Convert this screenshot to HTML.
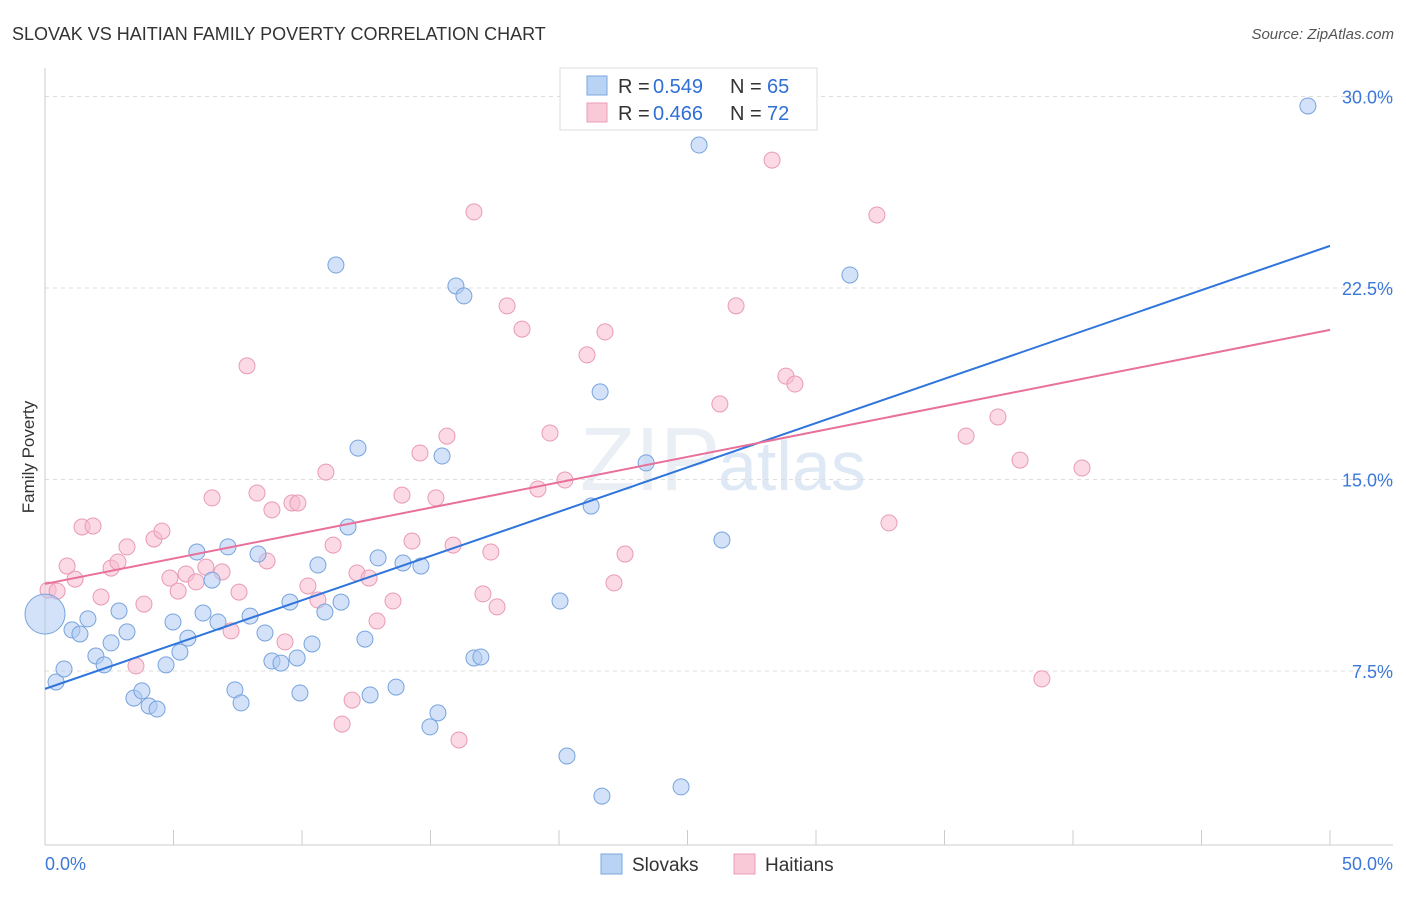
<!DOCTYPE html>
<html><head><meta charset="utf-8"><style>
body{margin:0;background:#fff;font-family:"Liberation Sans",sans-serif}
svg text{font-family:"Liberation Sans",sans-serif}
</style></head><body>
<svg id="chart" width="1406" height="892" xmlns="http://www.w3.org/2000/svg">
<text x="12" y="40" font-size="18" fill="#333">SLOVAK VS HAITIAN FAMILY POVERTY CORRELATION CHART</text>
<text x="1394" y="39" font-size="15" fill="#555" text-anchor="end" font-style="italic">Source: ZipAtlas.com</text>
<text x="720" y="490" font-size="90" fill="#dde6f0" text-anchor="end" font-family="Liberation Serif" opacity="0.6">ZIP</text>
<text x="718" y="490" font-size="70" fill="#c9dbf0" opacity="0.6">atlas</text>
<text transform="translate(34,457) rotate(-90)" font-size="17" fill="#333" text-anchor="middle">Family Poverty</text>
<g id="grid"></g><g id="axes"></g><g id="pts"></g><g id="lines"></g>
<g>
<rect x="560" y="68" width="257" height="62" fill="#fff" stroke="#ddd"/>
<rect x="587" y="76" width="20" height="19" fill="#b9d3f5" stroke="#7aa7e0"/>
<text x="618" y="93" font-size="20" fill="#333">R = </text><text x="653" y="93" font-size="20" fill="#2f6fd6">0.549</text>
<text x="730" y="93" font-size="20" fill="#333">N = </text><text x="767" y="93" font-size="20" fill="#2f6fd6">65</text>
<rect x="587" y="103" width="20" height="19" fill="#f9c9d8" stroke="#ec9cb6"/>
<text x="618" y="120" font-size="20" fill="#333">R = </text><text x="653" y="120" font-size="20" fill="#2f6fd6">0.466</text>
<text x="730" y="120" font-size="20" fill="#333">N = </text><text x="767" y="120" font-size="20" fill="#2f6fd6">72</text>
</g>
<g>
<rect x="601" y="854" width="21" height="20" fill="#b9d3f5" stroke="#7aa7e0"/>
<text x="632" y="871" font-size="19" fill="#333">Slovaks</text>
<rect x="734" y="854" width="21" height="20" fill="#f9c9d8" stroke="#ec9cb6"/>
<text x="765" y="871" font-size="19" fill="#333">Haitians</text>
</g>
</svg>
<script>
const slovakX=[0.43,0.74,1.05,1.36,1.67,1.98,2.30,2.57,2.88,3.19,3.46,3.77,4.05,4.36,4.71,4.98,5.25,5.56,5.91,6.15,6.50,6.73,7.12,7.39,7.63,7.98,8.29,8.56,8.83,9.18,9.53,9.81,9.92,10.39,10.62,10.89,11.32,11.52,11.79,12.18,12.45,12.65,12.96,13.66,13.93,14.63,14.98,15.29,15.45,15.99,16.30,16.69,16.96,20.04,20.31,21.25,21.60,21.67,23.39,24.75,25.45,26.34,31.32,49.14];
const slovakY=[7.07,7.58,9.11,8.95,9.54,8.09,7.74,8.60,9.85,9.03,6.44,6.72,6.13,6.01,7.74,9.42,8.24,8.79,12.16,9.77,11.06,9.42,12.36,6.76,6.25,9.65,12.08,8.99,7.89,7.81,10.20,8.01,6.64,8.56,11.65,9.81,23.40,10.20,13.14,16.23,8.75,6.56,11.93,6.87,11.73,11.61,5.31,5.86,15.92,22.58,22.19,8.01,8.05,10.24,4.17,13.96,18.43,2.60,15.65,2.96,28.10,12.63,23.01,29.63];
const haitianX=[0.12,0.47,0.86,1.17,1.44,1.87,2.18,2.57,2.84,3.19,3.54,3.85,4.24,4.55,4.86,5.18,5.49,5.88,6.26,6.50,6.89,7.24,7.55,7.86,8.25,8.64,8.83,9.34,9.61,9.84,10.23,10.62,10.93,11.21,11.56,11.95,12.14,12.61,12.92,13.54,13.89,14.28,14.59,15.21,15.64,15.88,16.11,16.69,17.04,17.35,17.59,17.98,18.56,19.18,19.65,20.23,21.09,21.79,22.14,22.57,26.26,26.89,28.29,28.83,29.18,32.37,32.84,35.84,37.08,37.94,38.79,40.35];
const haitianY=[10.67,10.63,11.61,11.10,13.14,13.18,10.40,11.53,11.77,12.36,7.70,10.12,12.67,12.98,11.14,10.63,11.30,10.99,11.57,14.28,11.38,9.07,10.59,19.45,14.47,11.81,13.81,8.64,14.08,14.08,10.83,10.28,15.29,12.43,5.42,6.36,11.34,11.14,9.46,10.24,14.39,12.59,16.04,14.28,16.70,12.43,4.80,25.48,10.52,12.16,10.01,21.80,20.89,14.63,16.82,14.98,19.88,20.78,10.95,12.08,17.96,21.80,27.51,19.05,18.74,25.36,13.30,16.70,17.45,15.76,7.19,15.45];
const bigX=[0.0], bigY=[9.73];
const slovakLine=[6.80,24.15], haitianLine=[10.91,20.86];
const yTicks=[7.5,15.0,22.5,30.0];
const xTickLabels=["0.0%","50.0%"];
const NS="http://www.w3.org/2000/svg";
const sx=v=>45+v*25.7, sy=v=>862.5-v*25.533;
function mk(t,a,p){const e=document.createElementNS(NS,t);for(const k in a)e.setAttribute(k,a[k]);p.appendChild(e);return e;}
const grid=document.getElementById('grid'),axes=document.getElementById('axes'),pts=document.getElementById('pts'),lines=document.getElementById('lines');
yTicks.forEach(v=>{
 const l=mk('line',{x1:45,x2:1393,y1:sy(v),y2:sy(v),stroke:'#ddd','stroke-dasharray':'4,4'},grid);
 
 
 const t=mk('text',{x:1393,y:sy(v)+7,'font-size':18,fill:'#3b78d8','text-anchor':'end'},grid);
 t.textContent=v.toFixed(1)+'%';
 
 
});
const ya=mk('line',{x1:45,x2:45,y1:68,y2:845,stroke:'#ccc'},axes);


const xa=mk('line',{x1:45,x2:1393,y1:845,y2:845,stroke:'#ccc'},axes);


for(let i=0;i<=10;i++){
 const tk=mk('line',{x1:sx(i*5),x2:sx(i*5),y1:830,y2:845,stroke:'#ccc'},axes);
 
 
}
[[0,'start',45],[1,'end',1393]].forEach(([i,a,x])=>{
 const t=mk('text',{x:x,y:870,'font-size':18,fill:'#3b78d8','text-anchor':a},axes);
 t.textContent=xTickLabels[i];
 
 
});
function dots(X,Y,r,fill,stroke,name){
 X.forEach((x,i)=>{
  const c=mk('circle',{cx:sx(x),cy:sy(Y[i]),r:r,fill:fill,'fill-opacity':0.55,stroke:stroke,'stroke-width':1},pts);
  
  
 });
}
dots(haitianX,haitianY,8,'#f7bccf','#e99ab4','haitian-point');
dots(slovakX,slovakY,8,'#aecbf2','#77a3dd','slovak-point');
dots(bigX,bigY,20,'#aecbf2','#77a3dd','slovak-point-large');
const bl=mk('line',{x1:sx(0),y1:sy(slovakLine[0]),x2:sx(50),y2:sy(slovakLine[1]),stroke:'#2f75dc','stroke-width':2},lines);


const pl=mk('line',{x1:sx(0),y1:sy(haitianLine[0]),x2:sx(50),y2:sy(haitianLine[1]),stroke:'#e8709a','stroke-width':2},lines);


</script>
</body></html>
